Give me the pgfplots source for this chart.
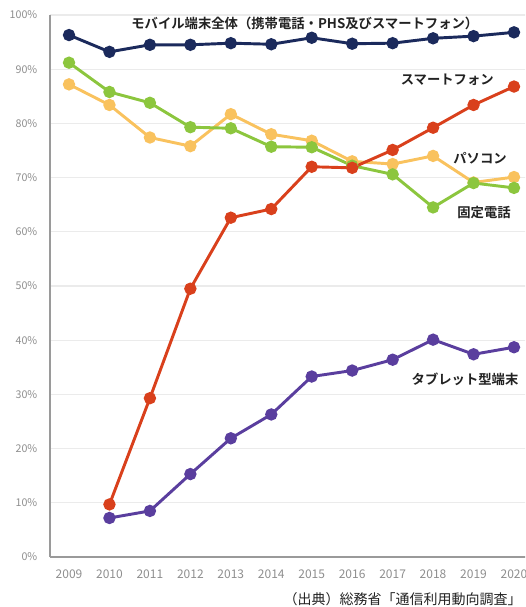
\documentclass[border=0pt]{standalone}
\usepackage{fontspec}
\setmainfont{Noto Sans CJK JP}[BoldFont={Noto Sans CJK JP Bold}]
\usepackage{pgfplots}
\pgfplotsset{compat=1.18}
\definecolor{cnavy}{HTML}{1B2A5C}
\definecolor{cred}{HTML}{D9401C}
\definecolor{cgreen}{HTML}{8CC63E}
\definecolor{cyellow}{HTML}{F9C25E}
\definecolor{cpurple}{HTML}{5A3E9E}
\definecolor{ctick}{HTML}{8E8E8E}
\definecolor{cgrid}{HTML}{EBEBEB}
\definecolor{caxis}{HTML}{9A9A9A}
\definecolor{clabel}{HTML}{222222}
\begin{document}
\begin{tikzpicture}
\useasboundingbox (0,0) rectangle (393.75pt,455.25pt);
\clip (0,0) rectangle (393.75pt,455.25pt);
\begin{axis}[
  at={(37.5pt,37.5pt)}, anchor=south west,
  scale only axis, width=366.2pt, height=406.5pt,
  xmin=2008.53, xmax=2020.6, ymin=0, ymax=100,
  axis x line*=bottom, axis y line*=left,
  axis line style={draw=caxis, line width=1.3pt},
  major tick length=0pt,
  ytick={0,10,...,100},
  yticklabel={\pgfmathprintnumber{\tick}\%},
  xtick={2009,...,2020},
  /pgf/number format/1000 sep={},
  /pgf/number format/assume math mode=true,
  ymajorgrids, grid style={draw=cgrid, line width=0.8pt},
  ticklabel style={text=ctick},
  yticklabel style={anchor=east, xshift=-6pt, font=\fontsize{8pt}{9pt}\selectfont},
  xticklabel style={anchor=north, yshift=-6pt, font=\fontsize{9pt}{10pt}\selectfont},
  clip=false,
  every axis plot/.append style={line width=2.2pt, mark=*, mark size=3.5pt},
]
\addplot[color=cyellow, mark options={fill=cyellow}] coordinates {
(2009,87.2) (2010,83.4) (2011,77.4) (2012,75.8) (2013,81.7) (2014,78.0)
(2015,76.8) (2016,73.0) (2017,72.5) (2018,74.0) (2019,69.1) (2020,70.1)};
\addplot[color=cgreen, mark options={fill=cgreen}] coordinates {
(2009,91.2) (2010,85.8) (2011,83.8) (2012,79.3) (2013,79.1) (2014,75.7)
(2015,75.6) (2016,72.2) (2017,70.6) (2018,64.5) (2019,69.0) (2020,68.1)};
\addplot[color=cpurple, mark options={fill=cpurple}] coordinates {
(2010,7.2) (2011,8.5) (2012,15.3) (2013,21.9) (2014,26.3)
(2015,33.3) (2016,34.4) (2017,36.4) (2018,40.1) (2019,37.4) (2020,38.7)};
\addplot[color=cred, mark options={fill=cred}] coordinates {
(2010,9.7) (2011,29.3) (2012,49.5) (2013,62.6) (2014,64.2)
(2015,72.0) (2016,71.8) (2017,75.1) (2018,79.2) (2019,83.4) (2020,86.8)};
\addplot[color=cnavy, mark options={fill=cnavy}] coordinates {
(2009,96.3) (2010,93.2) (2011,94.5) (2012,94.5) (2013,94.8) (2014,94.6)
(2015,95.8) (2016,94.7) (2017,94.8) (2018,95.7) (2019,96.1) (2020,96.8)};
\begin{scope}[every node/.style={font=\fontsize{10pt}{12pt}\selectfont\bfseries, text=clabel, inner sep=0pt}]
\node at (axis cs:2014.83,98.4) {モバイル端末全体（携帯電話・PHS及びスマートフォン）};
\node at (axis cs:2018.35,88.0) {スマートフォン};
\node at (axis cs:2019.16,73.6) {パソコン};
\node at (axis cs:2019.26,63.5) {固定電話};
\node at (axis cs:2018.79,32.7) {タブレット型端末};
\end{scope}
\end{axis}
\node[anchor=west, inner sep=0pt, font=\fontsize{10.5pt}{12pt}\selectfont, text=clabel] at (212.5pt,6pt) {（出典）総務省「通信利用動向調査」};
\end{tikzpicture}
\end{document}
